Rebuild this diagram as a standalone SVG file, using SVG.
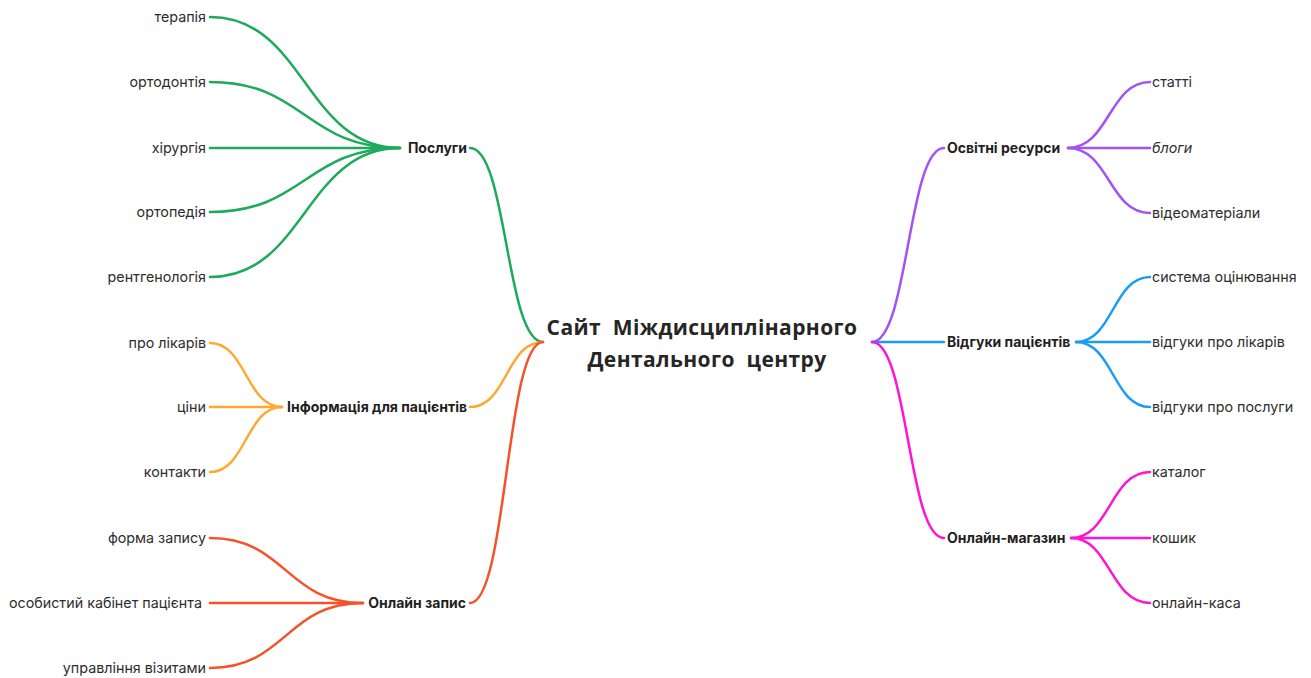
<svg xmlns="http://www.w3.org/2000/svg" width="1311" height="678" viewBox="0 0 1311 678">
  <style>
    .lbl { font-family: Inter, "Liberation Sans", sans-serif; font-size: 14.3px; fill: #2e2e2e; }
    .sub { font-family: Inter, "Liberation Sans", sans-serif; font-size: 14px; font-weight: 700; fill: #1f1f1f; }
    .root { font-family: "Open Sans", "Noto Sans", sans-serif; font-size: 21px; font-weight: 700; fill: #262626; letter-spacing: 0.4px; }
    .edge { fill: none; stroke-width: 2.5; stroke-linecap: round; }
    .green { stroke: #1eaa5c; }
    .orange { stroke: #ffa82f; }
    .red { stroke: #f4532a; }
    .purple { stroke: #a352f5; }
    .blue { stroke: #1a9cf5; }
    .magenta { stroke: #ff14d6; }
  </style>
  <rect width="1311" height="678" fill="#ffffff"/>

  <g id="connectors">
    <!-- root to branches, left -->
    <path class="edge green" d="M543,342 C506,342 507,148 470,148"/>
    <path class="edge orange" d="M543,342 C506,342 507,407 470,407"/>
    <path class="edge red" d="M543,342 C506,342 507,603 470,603"/>
    <!-- root to branches, right -->
    <path class="edge purple" d="M872,342 C908,342 908,148 944,148"/>
    <path class="edge blue" d="M872,342 L944,342"/>
    <path class="edge magenta" d="M872,342 C908,342 908,538 944,538"/>

    <!-- Послуги -->
    <path class="edge green" d="M400,148 C305,148 305,17 210,17"/>
    <path class="edge green" d="M400,148 C305,148 305,82 210,82"/>
    <path class="edge green" d="M400,148 L210,148"/>
    <path class="edge green" d="M400,148 C305,148 305,212 210,212"/>
    <path class="edge green" d="M400,148 C305,148 305,277 210,277"/>

    <!-- Інформація для пацієнтів -->
    <path class="edge orange" d="M282,407 C246,407 246,343 210,343"/>
    <path class="edge orange" d="M282,407 L210,407"/>
    <path class="edge orange" d="M282,407 C246,407 246,472 210,472"/>

    <!-- Онлайн запис -->
    <path class="edge red" d="M363,603 C286,603 286,538 210,538"/>
    <path class="edge red" d="M363,603 L210,603"/>
    <path class="edge red" d="M363,603 C286,603 286,668 210,668"/>

    <!-- Освітні ресурси -->
    <path class="edge purple" d="M1068,148 C1109,148 1109,82 1150,82"/>
    <path class="edge purple" d="M1068,148 L1150,148"/>
    <path class="edge purple" d="M1068,148 C1109,148 1109,213 1150,213"/>

    <!-- Відгуки пацієнтів -->
    <path class="edge blue" d="M1076,342 C1113,342 1113,277 1150,277"/>
    <path class="edge blue" d="M1076,342 L1150,342"/>
    <path class="edge blue" d="M1076,342 C1113,342 1113,407 1150,407"/>

    <!-- Онлайн-магазин -->
    <path class="edge magenta" d="M1071,538 C1110,538 1110,472 1150,472"/>
    <path class="edge magenta" d="M1071,538 L1150,538"/>
    <path class="edge magenta" d="M1071,538 C1110,538 1110,603 1150,603"/>
  </g>

  <g id="root">
    <text class="root" xml:space="preserve" x="702" y="335" text-anchor="middle">Сайт  Міждисциплінарного</text>
    <text class="root" xml:space="preserve" x="707" y="367" text-anchor="middle">Дентального  центру</text>
  </g>

  <g id="posluhy">
    <text class="sub" x="467" y="153" text-anchor="end">Послуги</text>
  </g>
  <g id="posluhy-children">
    <text class="lbl" x="206" y="22" text-anchor="end">терапія</text>
    <text class="lbl" x="206" y="87" text-anchor="end">ортодонтія</text>
    <text class="lbl" x="206" y="153" text-anchor="end">хірургія</text>
    <text class="lbl" x="206" y="217" text-anchor="end">ортопедія</text>
    <text class="lbl" x="206" y="282" text-anchor="end">рентгенологія</text>
  </g>

  <g id="informatsiia">
    <text class="sub" x="467" y="412" text-anchor="end">Інформація для пацієнтів</text>
  </g>
  <g id="informatsiia-children">
    <text class="lbl" x="206" y="348" text-anchor="end">про лікарів</text>
    <text class="lbl" x="206" y="412" text-anchor="end">ціни</text>
    <text class="lbl" x="206" y="477" text-anchor="end">контакти</text>
  </g>

  <g id="onlain-zapys">
    <text class="sub" x="466" y="608" text-anchor="end">Онлайн запис</text>
  </g>
  <g id="onlain-zapys-children">
    <text class="lbl" x="206" y="543" text-anchor="end">форма запису</text>
    <text class="lbl" x="202" y="608" text-anchor="end">особистий кабінет пацієнта</text>
    <text class="lbl" x="206" y="673" text-anchor="end">управління візитами</text>
  </g>

  <g id="osvitni-resursy">
    <text class="sub" x="947" y="153">Освітні ресурси</text>
  </g>
  <g id="osvitni-resursy-children">
    <text class="lbl" x="1152" y="87">статті</text>
    <text class="lbl" x="1152" y="153" font-style="italic">блоги</text>
    <text class="lbl" x="1152" y="218">відеоматеріали</text>
  </g>

  <g id="vidhuky">
    <text class="sub" x="947" y="347">Відгуки пацієнтів</text>
  </g>
  <g id="vidhuky-children">
    <text class="lbl" x="1152" y="282">система оцінювання</text>
    <text class="lbl" x="1152" y="347">відгуки про лікарів</text>
    <text class="lbl" x="1152" y="412">відгуки про послуги</text>
  </g>

  <g id="onlain-mahazyn">
    <text class="sub" x="947" y="543">Онлайн-магазин</text>
  </g>
  <g id="onlain-mahazyn-children">
    <text class="lbl" x="1152" y="477">каталог</text>
    <text class="lbl" x="1152" y="543">кошик</text>
    <text class="lbl" x="1152" y="608">онлайн-каса</text>
  </g>
</svg>
